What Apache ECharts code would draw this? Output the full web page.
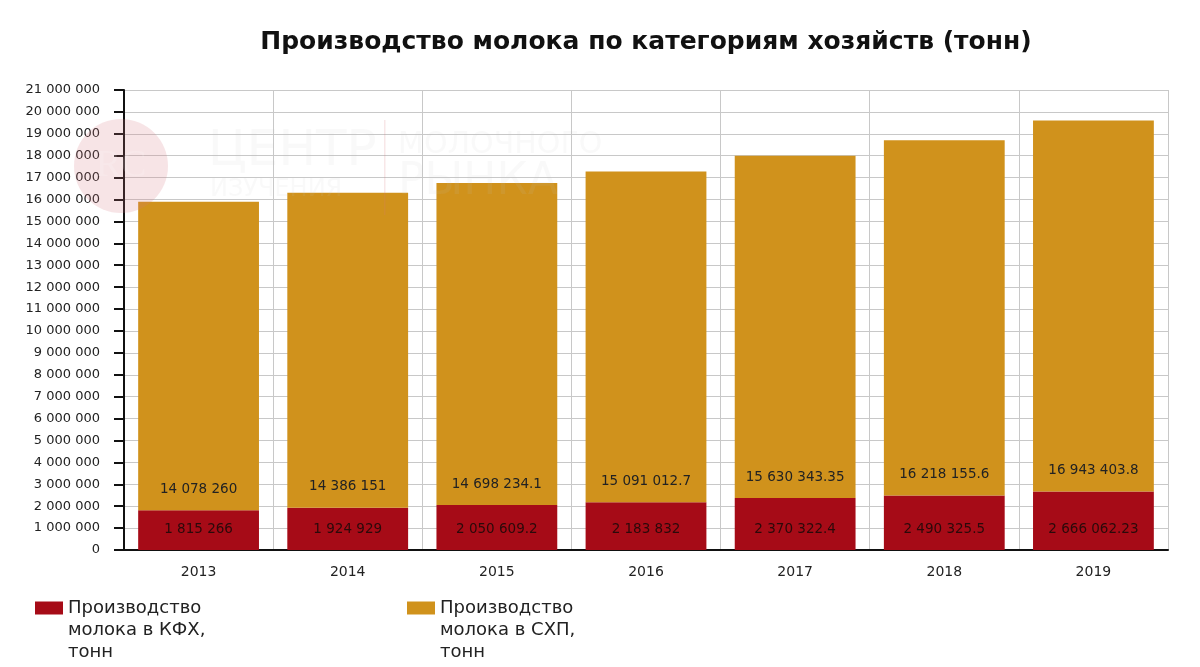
<!DOCTYPE html>
<html><head><meta charset="utf-8">
<script src="https://cdn.jsdelivr.net/npm/echarts@6/dist/echarts.min.js"></script>
<style>html,body{margin:0;padding:0;background:#fff}#c{width:1200px;height:667px}</style>
</head><body><div id="c"></div>
<script>
const categories = ['2013','2014','2015','2016','2017','2018','2019'];
const kfh = [1815266, 1924929, 2050609.2, 2183832, 2370322.4, 2490325.5, 2666062.23];
const shp = [14078260, 14386151, 14698234.1, 15091012.7, 15630343.35, 16218155.6, 16943403.8];
const seriesNames = ['Производство молока в КФХ, тонн', 'Производство молока в СХП, тонн'];
const legendLabels = {
  'Производство молока в КФХ, тонн': 'Производство\nмолока в КФХ,\nтонн',
  'Производство молока в СХП, тонн': 'Производство\nмолока в СХП,\nтонн'
};
const titleText = 'Производство молока по категориям хозяйств (тонн)';

function fmt(v) {
  const s = String(v);
  const parts = s.split('.');
  const intPart = parts[0].replace(/\B(?=(\d{3})+(?!\d))/g, ' ');
  return parts.length > 1 ? intPart + '.' + parts[1] : intPart;
}
const FONT = 'DejaVu Sans';
const chart = echarts.init(document.getElementById('c'));
const legendBase = {
  orient: 'horizontal', icon: 'rect', itemWidth: 28, itemHeight: 13, padding: 0,
  selectedMode: false,
  // two leading empty lines so the first text line sits level with the icon
  formatter: n => '\n\n' + (legendLabels[n] || n),
  textStyle: { fontFamily: FONT, fontSize: 18, lineHeight: 22, color: '#222' }
};
chart.setOption({
  animation: false,
  textStyle: { fontFamily: FONT },
  title: {
    text: titleText, left: 641, textAlign: 'center', top: 25,
    textStyle: { fontFamily: FONT, fontSize: 25, fontWeight: 'bold', color: '#111' }
  },
  legend: [
    Object.assign({}, legendBase, { data: [seriesNames[0]], left: 35, top: 553 }),
    Object.assign({}, legendBase, { data: [seriesNames[1]], left: 407, top: 553 })
  ],
  grid: { left: 124, right: 32, top: 90, bottom: 117, containLabel: false },
  xAxis: {
    type: 'category', data: categories, boundaryGap: true,
    axisLine: { lineStyle: { color: '#111', width: 2 } },
    axisTick: { alignWithLabel: true, length: 6, lineStyle: { color: '#111', width: 2 } },
    axisLabel: { fontFamily: FONT, fontSize: 14, color: '#222', margin: 15 },
    splitLine: { show: true, lineStyle: { color: '#c8c8c8', width: 1 } }
  },
  yAxis: {
    type: 'value', min: 0, max: 21000000, interval: 1000000,
    axisLine: { show: true, lineStyle: { color: '#111', width: 2 } },
    axisTick: { show: true, length: 10, lineStyle: { color: '#111', width: 2 } },
    axisLabel: { fontFamily: FONT, fontSize: 13, color: '#222', margin: 24, formatter: v => fmt(v) },
    splitLine: { show: true, lineStyle: { color: '#c8c8c8', width: 1 } }
  },
  series: [
    {
      name: seriesNames[0], type: 'bar', stack: 'total', data: kfh, barWidth: '81%',
      itemStyle: { color: '#A60B17' },
      label: { show: true, position: 'insideBottom', distance: 14, fontFamily: FONT, fontSize: 13.5, color: '#2a0a0a', formatter: p => fmt(p.value) }
    },
    {
      name: seriesNames[1], type: 'bar', stack: 'total', data: shp, barWidth: '81%',
      itemStyle: { color: '#D0921C' },
      label: { show: true, position: 'insideBottom', distance: 14, fontFamily: FONT, fontSize: 13.5, color: '#222', formatter: p => fmt(p.value) }
    }
  ],
  graphic: [
    { type: 'circle', shape: { cx: 121, cy: 166, r: 47 }, style: { fill: 'rgba(214,120,130,0.2)' }, z: 100, silent: true },
    { type: 'text', x: 121, y: 166, style: { text: 'RC', fontFamily: 'Liberation Serif', fontSize: 38, fill: 'rgba(255,255,255,0.15)', align: 'center', verticalAlign: 'middle' }, z: 101, silent: true },
    { type: 'text', x: 208, y: 152, style: { text: 'ЦЕНТР', fontFamily: FONT, fontSize: 50, fill: 'rgba(200,200,200,0.1)', verticalAlign: 'middle' }, z: 100, silent: true },
    { type: 'text', x: 210, y: 190, style: { text: 'ИЗУЧЕНИЯ', fontFamily: FONT, fontSize: 24, fill: 'rgba(200,200,200,0.1)', verticalAlign: 'middle' }, z: 100, silent: true },
    { type: 'rect', shape: { x: 384, y: 120, width: 1.5, height: 95 }, style: { fill: 'rgba(214,120,130,0.18)' }, z: 100, silent: true },
    { type: 'text', x: 398, y: 145, style: { text: 'МОЛОЧНОГО', fontFamily: FONT, fontSize: 30, fill: 'rgba(200,200,200,0.1)', verticalAlign: 'middle' }, z: 100, silent: true },
    { type: 'text', x: 398, y: 183, style: { text: 'РЫНКА', fontFamily: FONT, fontSize: 44, fill: 'rgba(200,200,200,0.1)', verticalAlign: 'middle' }, z: 100, silent: true }
  ]
});
</script></body></html>
